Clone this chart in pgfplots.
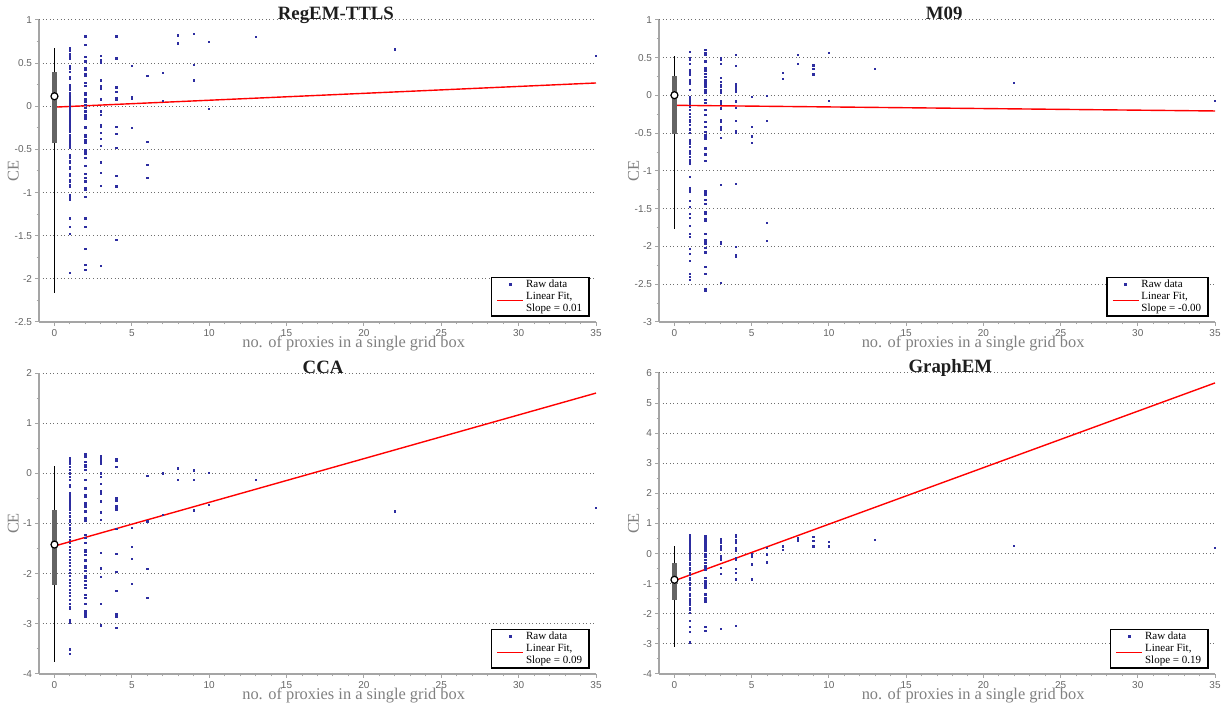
\documentclass[border=0pt]{standalone}
\usepackage{fontspec}
\setmainfont{Liberation Serif}
\setsansfont{Liberation Sans}
\usepackage{pgfplots}
\pgfplotsset{compat=1.18}
\definecolor{dotc}{RGB}{45,45,160}
\definecolor{axc}{RGB}{165,165,165}
\definecolor{gridc}{RGB}{110,110,110}
\definecolor{tlc}{RGB}{100,100,100}
\definecolor{labc}{RGB}{128,128,128}
\definecolor{boxc}{RGB}{100,100,100}
\definecolor{titc}{RGB}{30,30,30}
\tikzset{ttl/.style={anchor=base, font=\fontsize{9.4}{10}\selectfont\bfseries, text=titc}}
\pgfplotsset{
 panel/.style={
  scale only axis, anchor=south west, clip=false,
  xmin=-1, xmax=35, xtick={0,5,...,35},
  minor x tick num=4, minor y tick num=1,
  axis x line*=bottom, axis y line*=left,
  axis line style={-, axc, line width=1.1pt},
  tick style={axc, line width=0.5pt},
  tick align=outside,
  major tick length=2pt, minor tick length=1.2pt,
  ymajorgrids, grid style={gridc, line width=0.5pt, dash pattern=on 0.5pt off 1.3pt},
  tick label style={font=\fontsize{5}{6}\selectfont\sffamily, text=tlc},
  xticklabel style={yshift=1.8pt},
  yticklabel style={xshift=2pt},
  /pgf/number format/assume math mode=true,
  xlabel={no. of proxies in a single grid box},
  ylabel={CE},
  label style={font=\fontsize{8.2}{9}\selectfont, text=labc},
  xlabel style={at={(axis description cs:0.565,0)}, anchor=base, yshift=-12.6pt},
  ylabel style={at={(axis description cs:-0.046,0.5)}, anchor=center},
  legend cell align=left,
  legend style={at={(0.989,0.017)}, anchor=south east, draw=black, line width=0.8pt, fill=white,
    font=\fontsize{5.5}{6.2}\selectfont, inner xsep=2.5pt, inner ysep=0.8pt, row sep=0.45pt, column sep=0pt,
    nodes={inner xsep=1pt, inner ysep=0.2pt, text height=4pt, text depth=1.2pt}},
 },
 rawdata/.style={only marks, mark=square*, mark size=0.32pt, dotc, mark options={draw=none, fill=dotc},
   legend image code/.code={\draw[mark repeat=2,mark phase=2,##1] plot coordinates {(0pt,0pt) (6.5pt,0pt) (13pt,0pt)};}},
 fitline/.style={red, line width=0.7pt,
   legend image code/.code={\draw[##1] (0pt,-2pt) -- (13pt,-2pt);}},
 slopeentry/.style={draw=none, legend image code/.code={}},
 whisk/.style={black, line width=0.8pt, forget plot},
 boxs/.style={boxc, line width=2.8pt, forget plot},
 med/.style={only marks, mark=*, mark size=1.75pt, mark options={fill=white, draw=black, line width=0.6pt}, forget plot},
}
\begin{document}
\begin{tikzpicture}
\useasboundingbox (0,0) rectangle (612.5pt,355.5pt);
% ---------------- RegEM-TTLS
\begin{axis}[panel, at={(19.5pt,194.5pt)}, width=278.5pt, height=151pt,
  ymin=-2.5, ymax=1, ytick={-2.5,-2,...,1}]
\addplot[rawdata] coordinates {
(1,0.68)(1,0.66)(1,0.64)(1,0.60)(1,0.57)(1,0.55)(1,0.47)(1,0.44)(1,0.40)(1,0.34)(1,0.32)(1,0.25)(1,0.22)(1,0.19)(1,0.15)(1,0.12)(1,0.10)(1,0.08)(1,0.06)(1,0.04)(1,0.02)(1,0.00)(1,-0.02)(1,-0.04)(1,-0.06)(1,-0.08)(1,-0.10)(1,-0.12)(1,-0.14)(1,-0.16)(1,-0.18)(1,-0.20)(1,-0.22)(1,-0.24)(1,-0.26)(1,-0.28)(1,-0.30)(1,-0.33)(1,-0.36)(1,-0.38)(1,-0.40)(1,-0.43)(1,-0.46)(1,-0.48)(1,-0.56)(1,-0.58)(1,-0.60)(1,-0.63)(1,-0.65)(1,-0.70)(1,-0.72)(1,-0.79)(1,-0.81)(1,-0.85)(1,-0.88)(1,-0.91)(1,-0.93)(1,-1.03)(1,-1.05)(1,-1.08)(1,-1.30)(1,-1.40)(1,-1.48)(1,-1.93)
(2,0.81)(2,0.71)(2,0.57)(2,0.52)(2,0.44)(2,0.42)(2,0.37)(2,0.35)(2,0.27)(2,0.24)(2,0.15)(2,0.13)(2,0.08)(2,0.05)(2,0.02)(2,-0.02)(2,-0.06)(2,-0.10)(2,-0.12)(2,-0.14)(2,-0.24)(2,-0.25)(2,-0.33)(2,-0.35)(2,-0.39)(2,-0.42)(2,-0.51)(2,-0.53)(2,-0.55)(2,-0.60)(2,-0.69)(2,-0.78)(2,-0.83)(2,-0.87)(2,-0.95)(2,-0.97)(2,-1.05)(2,-1.30)(2,-1.40)(2,-1.65)(2,-1.84)(2,-1.90)
(3,0.58)(3,0.54)(3,0.51)(3,0.50)(3,0.30)(3,0.23)(3,0.20)(3,0.08)(3,-0.06)(3,-0.10)(3,-0.22)(3,-0.24)(3,-0.31)(3,-0.38)(3,-0.46)(3,-0.65)(3,-0.77)(3,-0.92)(3,-1.85)
(4,0.81)(4,0.56)(4,0.55)(4,0.22)(4,0.17)(4,0.09)(4,0.07)(4,-0.24)(4,-0.32)(4,-0.48)(4,-0.81)(4,-0.92)(4,-0.93)(4,-1.55)
(5,0.47)(5,0.11)(5,0.09)(5,-0.25)
(6,0.35)(6,-0.41)(6,-0.68)(6,-0.83)
(7,0.39)(7,0.06)
(8,0.82)(8,0.73)
(9,0.84)(9,0.48)(9,0.30)
(10,0.75)(10,-0.03)
(13,0.80)(22,0.66)(35,0.58)};
\addlegendentry{Raw data}
\addplot[fitline] coordinates {(0,-0.01) (35,0.27)};
\addlegendentry{Linear Fit,}
\addplot[slopeentry] coordinates {(0,0)};
\addlegendentry{Slope = 0.01}
\addplot[whisk] coordinates {(0,-2.16) (0,0.672)};
\addplot[boxs] coordinates {(0,-0.43) (0,0.40)};
\addplot[med] coordinates {(0,0.116)};
\node[ttl] at (rel axis cs:0.533,1) {RegEM-TTLS};
\end{axis}
% ---------------- M09
\begin{axis}[panel, at={(329.5pt,194.5pt)}, width=278pt, height=151pt,
  ymin=-3, ymax=1, ytick={-3,-2.5,...,1}]
\addplot[rawdata] coordinates {
(1,0.58)(1,0.49)(1,0.47)(1,0.42)(1,0.34)(1,0.31)(1,0.29)(1,0.27)(1,0.20)(1,0.18)(1,0.16)(1,0.07)(1,-0.02)(1,-0.04)(1,-0.06)(1,-0.08)(1,-0.11)(1,-0.15)(1,-0.19)(1,-0.24)(1,-0.28)(1,-0.33)(1,-0.35)(1,-0.39)(1,-0.44)(1,-0.46)(1,-0.50)(1,-0.59)(1,-0.62)(1,-0.64)(1,-0.68)(1,-0.73)(1,-0.75)(1,-0.77)(1,-0.81)(1,-0.86)(1,-0.90)(1,-1.08)(1,-1.23)(1,-1.27)(1,-1.40)(1,-1.48)(1,-1.57)(1,-1.62)(1,-1.73)(1,-1.83)(1,-1.87)(1,-2.03)(1,-2.10)(1,-2.19)(1,-2.36)(1,-2.40)(1,-2.44)
(2,0.60)(2,0.56)(2,0.54)(2,0.45)(2,0.36)(2,0.33)(2,0.29)(2,0.25)(2,0.20)(2,0.17)(2,0.14)(2,0.11)(2,0.07)(2,0.04)(2,-0.06)(2,-0.10)(2,-0.19)(2,-0.26)(2,-0.35)(2,-0.42)(2,-0.48)(2,-0.53)(2,-0.57)(2,-0.70)(2,-0.78)(2,-0.87)(2,-1.27)(2,-1.31)(2,-1.38)(2,-1.44)(2,-1.54)(2,-1.56)(2,-1.63)(2,-1.66)(2,-1.83)(2,-1.92)(2,-1.96)(2,-2.02)(2,-2.08)(2,-2.27)(2,-2.36)(2,-2.56)(2,-2.58)
(3,0.50)(3,0.47)(3,0.42)(3,0.23)(3,0.18)(3,0.14)(3,0.11)(3,0.07)(3,0.04)(3,-0.08)(3,-0.11)(3,-0.17)(3,-0.33)(3,-0.35)(3,-0.42)(3,-0.45)(3,-0.56)(3,-1.18)(3,-1.94)(3,-1.97)(3,-2.48)
(4,0.54)(4,0.39)(4,0.15)(4,0.12)(4,0.08)(4,0.05)(4,-0.08)(4,-0.16)(4,-0.34)(4,-0.47)(4,-0.50)(4,-1.17)(4,-2.01)(4,-2.11)(4,-2.14)
(5,-0.02)(5,-0.42)(5,-0.54)(5,-0.63)
(6,-0.01)(6,-0.34)(6,-1.69)(6,-1.93)
(7,0.30)(7,0.22)
(8,0.54)(8,0.42)
(9,0.40)(9,0.35)(9,0.28)
(10,0.56)(10,-0.07)
(13,0.35)(22,0.17)(35,-0.07)};
\addlegendentry{Raw data}
\addplot[fitline] coordinates {(0,-0.13) (35,-0.205)};
\addlegendentry{Linear Fit,}
\addplot[slopeentry] coordinates {(0,0)};
\addlegendentry{Slope = -0.00}
\addplot[whisk] coordinates {(0,-1.766) (0,0.527)};
\addplot[boxs] coordinates {(0,-0.504) (0,0.257)};
\addplot[med] coordinates {(0,0.004)};
\node[ttl] at (rel axis cs:0.513,1) {M09};
\end{axis}
% ---------------- CCA
\begin{axis}[panel, at={(19.5pt,18.5pt)}, width=278.5pt, height=150.5pt,
  ymin=-4, ymax=2, ytick={-4,-3,...,2}]
\addplot[rawdata] coordinates {
(1,0.31)(1,0.28)(1,0.23)(1,0.20)(1,0.13)(1,0.07)(1,0.00)(1,-0.07)(1,-0.13)(1,-0.23)(1,-0.26)(1,-0.40)(1,-0.43)(1,-0.46)(1,-0.50)(1,-0.53)(1,-0.56)(1,-0.60)(1,-0.66)(1,-0.70)(1,-0.73)(1,-0.79)(1,-0.86)(1,-0.93)(1,-0.96)(1,-1.03)(1,-1.09)(1,-1.13)(1,-1.19)(1,-1.26)(1,-1.32)(1,-1.39)(1,-1.46)(1,-1.52)(1,-1.59)(1,-1.66)(1,-1.72)(1,-1.79)(1,-1.85)(1,-1.92)(1,-1.99)(1,-2.05)(1,-2.12)(1,-2.19)(1,-2.25)(1,-2.32)(1,-2.38)(1,-2.45)(1,-2.53)(1,-2.60)(1,-2.66)(1,-2.70)(1,-2.93)(1,-2.97)(1,-3.51)(1,-3.60)
(2,0.38)(2,0.34)(2,0.23)(2,0.17)(2,0.13)(2,0.07)(2,-0.13)(2,-0.30)(2,-0.43)(2,-0.46)(2,-0.60)(2,-0.63)(2,-0.66)(2,-0.76)(2,-0.89)(2,-0.94)(2,-1.23)(2,-1.29)(2,-1.39)(2,-1.52)(2,-1.56)(2,-1.62)(2,-1.72)(2,-1.75)(2,-1.85)(2,-1.89)(2,-1.95)(2,-2.05)(2,-2.09)(2,-2.15)(2,-2.22)(2,-2.28)(2,-2.42)(2,-2.48)(2,-2.60)(2,-2.75)(2,-2.81)(2,-2.85)
(3,0.34)(3,0.30)(3,0.25)(3,0.20)(3,0.00)(3,-0.07)(3,-0.21)(3,-0.36)(3,-0.40)(3,-0.56)(3,-0.78)(3,-0.93)(3,-1.58)(3,-1.89)(3,-1.91)(3,-2.07)(3,-2.60)(3,-3.03)
(4,0.28)(4,0.25)(4,0.13)(4,-0.50)(4,-0.54)(4,-0.66)(4,-0.72)(4,-1.11)(4,-1.60)(4,-1.97)(4,-2.35)(4,-2.81)(4,-2.85)(4,-3.08)
(5,-1.09)(5,-1.47)(5,-1.70)(5,-2.20)
(6,-0.05)(6,-0.96)(6,-1.91)(6,-2.48)
(7,0.00)(7,-0.83)
(8,0.10)(8,-0.13)
(9,0.06)(9,-0.13)(9,-0.74)
(10,0.01)(10,-0.63)
(13,-0.13)(22,-0.76)(35,-0.69)};
\addlegendentry{Raw data}
\addplot[fitline] coordinates {(0,-1.45) (35,1.6)};
\addlegendentry{Linear Fit,}
\addplot[slopeentry] coordinates {(0,0)};
\addlegendentry{Slope = 0.09}
\addplot[whisk] coordinates {(0,-3.76) (0,0.14)};
\addplot[boxs] coordinates {(0,-2.22) (0,-0.74)};
\addplot[med] coordinates {(0,-1.42)};
\node[ttl] at (rel axis cs:0.51,1) {CCA};
\end{axis}
% ---------------- GraphEM
\begin{axis}[panel, at={(329.5pt,18.5pt)}, width=278pt, height=150.5pt,
  ymin=-4, ymax=6, ytick={-4,-3,...,6}]
\addplot[rawdata] coordinates {
(1,0.60)(1,0.52)(1,0.46)(1,0.39)(1,0.35)(1,0.30)(1,0.24)(1,0.19)(1,0.13)(1,0.08)(1,0.02)(1,-0.03)(1,-0.09)(1,-0.14)(1,-0.20)(1,-0.31)(1,-0.36)(1,-0.47)(1,-0.53)(1,-0.64)(1,-0.69)(1,-0.80)(1,-0.86)(1,-0.97)(1,-1.03)(1,-1.14)(1,-1.19)(1,-1.36)(1,-1.41)(1,-1.52)(1,-1.58)(1,-1.63)(1,-1.69)(1,-1.80)(1,-1.85)(1,-1.96)(1,-2.24)(1,-2.44)(1,-2.60)(1,-2.95)
(2,0.57)(2,0.52)(2,0.44)(2,0.35)(2,0.30)(2,0.24)(2,0.19)(2,0.13)(2,0.08)(2,0.00)(2,-0.09)(2,-0.20)(2,-0.31)(2,-0.42)(2,-0.47)(2,-0.55)(2,-0.80)(2,-0.92)(2,-0.99)(2,-1.08)(2,-1.14)(2,-1.36)(2,-1.47)(2,-1.54)(2,-1.60)(2,-2.44)(2,-2.57)
(3,0.49)(3,0.41)(3,0.35)(3,0.26)(3,0.19)(3,0.13)(3,-0.09)(3,-0.17)(3,-0.20)(3,-0.47)(3,-0.67)(3,-2.51)
(4,0.63)(4,0.57)(4,0.44)(4,0.35)(4,0.19)(4,0.11)(4,0.08)(4,-0.14)(4,-0.20)(4,-0.51)(4,-0.64)(4,-0.86)(4,-2.40)
(5,-0.03)(5,-0.09)(5,-0.36)(5,-0.86)
(6,0.19)(6,0.00)(6,-0.03)(6,-0.29)
(7,0.24)(7,0.13)
(8,0.52)(8,0.44)
(9,0.55)(9,0.43)(9,0.24)
(10,0.39)(10,0.24)
(13,0.46)(22,0.25)(35,0.20)};
\addlegendentry{Raw data}
\addplot[fitline] coordinates {(0,-0.9) (35,5.67)};
\addlegendentry{Linear Fit,}
\addplot[slopeentry] coordinates {(0,0)};
\addlegendentry{Slope = 0.19}
\addplot[whisk] coordinates {(0,-3.09) (0,0.24)};
\addplot[boxs] coordinates {(0,-1.54) (0,-0.31)};
\addplot[med] coordinates {(0,-0.87)};
\node[ttl] at (rel axis cs:0.524,1) {GraphEM};
\end{axis}
\end{tikzpicture}
\end{document}
